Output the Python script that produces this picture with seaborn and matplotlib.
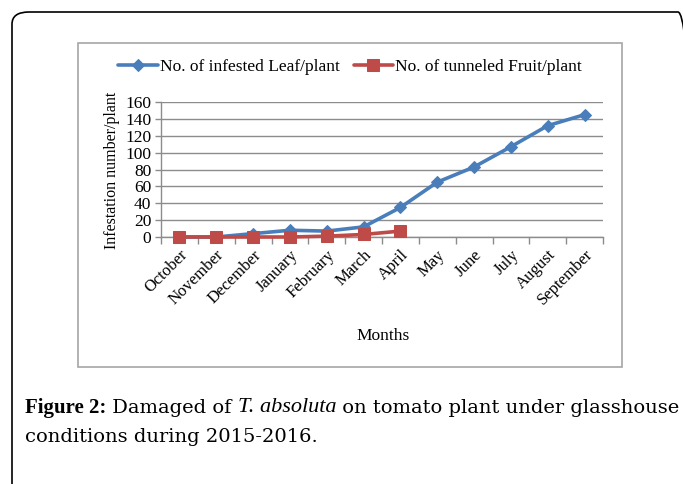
import matplotlib
matplotlib.use("Agg")
import matplotlib.pyplot as plt
import seaborn as sns
import pandas as pd
from matplotlib.patches import Rectangle, FancyBboxPatch
from matplotlib.ticker import FixedLocator

# ------------------------------------------
# data
# ------------------------------------------
months = ["October", "November", "December", "January", "February", "March",
          "April", "May", "June", "July", "August", "September"]
leaf = [0, 0, 4, 8, 7, 12, 35, 65, 83, 107, 132, 145]
fruit = [0, 0, 0, 0, 1, 3, 7]

leaf_label = "No. of infested Leaf/plant"
fruit_label = "No. of tunneled Fruit/plant"
y_ticks = [0, 20, 40, 60, 80, 100, 120, 140, 160]

BLUE = "#4a7ebb"
RED = "#be4b48"
GRID = "#8c8c8c"

def main():
    sns.set_theme(style="white")
    plt.rcParams["font.family"] = ["Liberation Serif", "DejaVu Serif"]
    plt.rcParams["text.color"] = "black"
    plt.rcParams["xtick.color"] = "black"
    plt.rcParams["ytick.color"] = "black"

    W, H = 683, 484
    fig = plt.figure(figsize=(W / 100, H / 100), dpi=100)

    # outer rounded frame (cut by right/bottom edge)
    frame = FancyBboxPatch((12 / W, -0.05), 1.0, (H - 12) / H + 0.05,
                           boxstyle="round,pad=0,rounding_size=0.025",
                           transform=fig.transFigure, fill=False,
                           edgecolor="black", linewidth=1.2, clip_on=False)
    fig.patches.append(frame)

    # chart box
    box = Rectangle((78 / W, (H - 367) / H), 544 / W, 324.5 / H,
                    transform=fig.transFigure, fill=False,
                    edgecolor="#a6a6a6", linewidth=1.2)
    fig.patches.append(box)

    ax = fig.add_axes([161 / W, (H - 237) / H, 442 / W, 135 / H])

    df_leaf = pd.DataFrame({"Month": months, "Value": leaf})
    df_fruit = pd.DataFrame({"Month": months[:len(fruit)], "Value": fruit})

    sns.lineplot(data=df_leaf, x="Month", y="Value", ax=ax, color=BLUE,
                 linewidth=2.6, marker="D", markersize=6.5,
                 markeredgecolor=BLUE, label=leaf_label, clip_on=False,
                 zorder=3)
    sns.lineplot(data=df_fruit, x="Month", y="Value", ax=ax, color=RED,
                 linewidth=2.6, marker="s", markersize=8.5,
                 markeredgecolor=RED, label=fruit_label, clip_on=False,
                 zorder=4)

    ax.set_xlim(-0.5, len(months) - 0.5)
    ax.set_ylim(0, 160)
    ax.set_yticks(y_ticks)
    ax.set_yticklabels([str(v) for v in y_ticks], fontsize=12.5)
    ax.set_xticks(range(len(months)))
    ax.set_xticklabels(months, rotation=45, ha="right",
                       rotation_mode="anchor", fontsize=12)
    ax.xaxis.set_minor_locator(FixedLocator([i - 0.5 for i in range(len(months) + 1)]))
    ax.tick_params(axis="x", which="major", length=0, pad=7)
    ax.tick_params(axis="x", which="minor", length=5, width=1, color=GRID,
                   direction="out", bottom=True)
    ax.tick_params(axis="y", length=4, width=1, color=GRID, labelcolor="black",
                   direction="out", left=True, pad=3)

    ax.grid(axis="y", color=GRID, linewidth=1)
    ax.grid(axis="x", visible=False)
    for side in ["top", "right"]:
        ax.spines[side].set_visible(False)
    for side in ["left", "bottom"]:
        ax.spines[side].set_color(GRID)
        ax.spines[side].set_linewidth(1)

    ax.set_xlabel("")
    ax.set_ylabel("")
    fig.text(112 / W, 1 - 170 / H, "Infestation number/plant", rotation=90,
             ha="center", va="center", fontsize=11.5)
    fig.text(383 / W, 1 - 336 / H, "Months", ha="center", va="center",
             fontsize=12.5)

    handles, labels = ax.get_legend_handles_labels()
    ax.legend_.remove()
    fig.legend(handles, labels, loc="center", ncol=2, frameon=False,
               bbox_to_anchor=(350 / W, 1 - 67 / H), fontsize=12.5,
               handlelength=2.3, handletextpad=0.1, columnspacing=0.8)

    # caption
    fig.canvas.draw()
    renderer = fig.canvas.get_renderer()
    x = 25 / W
    y1 = 1 - 408 / H
    pieces = [("Figure 2:", "bold", "normal", "Liberation Serif", 15),
              (" Damaged of ", "normal", "normal", "DejaVu Serif", 14),
              ("T. absoluta", "normal", "italic", "Liberation Serif", 16),
              (" on tomato plant under glasshouse", "normal", "normal",
               "DejaVu Serif", 14)]
    for txt, weight, style, fam, size in pieces:
        t = fig.text(x, y1, txt, fontsize=size, fontweight=weight,
                     fontstyle=style, family=fam, ha="left", va="center")
        bb = t.get_window_extent(renderer=renderer)
        x += bb.width / W
    fig.text(25 / W, 1 - 437 / H, "conditions during 2015-2016.",
             fontsize=14, family="DejaVu Serif", ha="left", va="center")

    fig.savefig("out.png", dpi=100)

if __name__ == "__main__":
    main()
